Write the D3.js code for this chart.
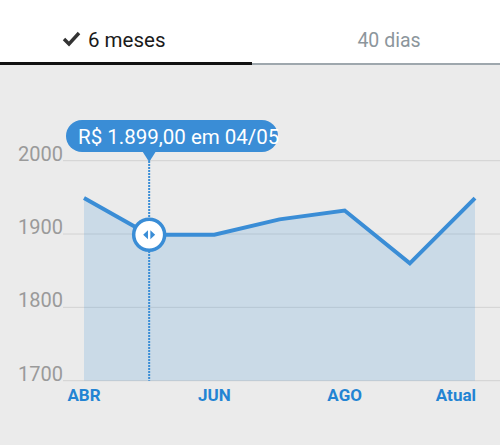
<!DOCTYPE html>
<html><head><meta charset="utf-8">
<script src="https://cdn.jsdelivr.net/npm/d3@7"></script>
<style>
html,body{margin:0;padding:0;background:#ebebeb;}
svg{display:block;font-family:Roboto,"Noto Sans",sans-serif;}
</style></head>
<body>
<svg id="c" width="500" height="445"></svg>
<script>
const categories = ["ABR","MAI","JUN","JUL","AGO","SET","Atual"];
const values = [1949, 1899, 1899, 1920, 1932, 1860, 1949];
const tickLabels = ["ABR","","JUN","","AGO","","Atual"];
const yTicks = [1700, 1800, 1900, 2000];
const tabs = ["6 meses", "40 dias"];
const selectedIndex = 1;
const tooltipText = "R$ 1.899,00 em 04/05";

const svg = d3.select("#c");
// tabs background
svg.append("rect").attr("x",0).attr("y",0).attr("width",500).attr("height",63).attr("fill","#ffffff");
svg.append("rect").attr("x",252).attr("y",63).attr("width",248).attr("height",2).attr("fill","#9ea7ad");
svg.append("rect").attr("x",0).attr("y",62).attr("width",252).attr("height",3).attr("fill","#111111");
// check mark
svg.append("path").attr("d","M64,39 L69,44 L79,33").attr("fill","none").attr("stroke","#333").attr("stroke-width",3.4);
svg.append("text").attr("x",88).attr("y",47).attr("font-size",20.5).attr("fill","#1a1a1a").text(tabs[0]);
svg.append("text").attr("x",389).attr("y",47).attr("text-anchor","middle").attr("font-size",19.5).attr("fill","#8c969c").text(tabs[1]);

const x = d3.scalePoint().domain(categories).range([84,475]);
const y = d3.scaleLinear().domain([1700,2000]).range([380.7,160.7]);

// gridlines
svg.append("g").selectAll("line").data(yTicks).join("line")
  .attr("x1",63).attr("x2",500).attr("y1",d=>y(d)).attr("y2",d=>y(d))
  .attr("stroke","#d2d2d2").attr("stroke-width",1);
// y labels
svg.append("g").selectAll("text").data(yTicks).join("text")
  .attr("x",63).attr("y",d=>y(d)).attr("text-anchor","end")
  .attr("font-size",20).attr("fill","#9a9a9a").text(d=>d);

// area
const area = d3.area().x((d,i)=>x(categories[i])).y0(y(1700)).y1(d=>y(d));
svg.append("path").datum(values).attr("d",area).attr("fill","#3a8fd6").attr("fill-opacity",0.18);
// line
const line = d3.line().x((d,i)=>x(categories[i])).y(d=>y(d));
svg.append("path").datum(values).attr("d",line).attr("fill","none")
  .attr("stroke","#3a8dd6").attr("stroke-width",4).attr("stroke-linejoin","miter");

// x labels
svg.append("g").selectAll("text").data(categories).join("text")
  .attr("x",d=>x(d)).attr("y",401)
  .attr("text-anchor",(d,i)=> i===categories.length-1 ? "end" : "middle")
  .attr("dx",(d,i)=> i===categories.length-1 ? 1 : 0)
  .attr("font-size",17).attr("font-weight","bold").attr("fill","#2384d3")
  .text((d,i)=>tickLabels[i]);

// selected marker
const sx = x(categories[selectedIndex]), sy = y(values[selectedIndex]);
svg.append("line").attr("x1",sx).attr("x2",sx).attr("y1",158).attr("y2",y(1700))
  .attr("stroke","#3a8dd6").attr("stroke-width",2).attr("stroke-dasharray","2,1");
// tooltip
const tg = svg.append("g");
tg.append("rect").attr("x",66).attr("y",120).attr("width",212).attr("height",32).attr("rx",16)
  .attr("fill","#3a8dd6");
tg.append("path").attr("d",`M${sx-7},151 L${sx+7},151 L${sx},162 Z`).attr("fill","#3a8dd6");
tg.append("text").attr("x",78).attr("y",143.5).attr("font-size",20.5)
  .attr("fill","#ffffff").text(tooltipText);
// handle
svg.append("circle").attr("cx",sx).attr("cy",sy).attr("r",15.5).attr("fill","#ffffff")
  .attr("stroke","#3a8dd6").attr("stroke-width",3.5);
svg.append("path").attr("d",`M${sx-1.2},${sy-4.5} L${sx-1.2},${sy+4.5} L${sx-6},${sy} Z M${sx+1.2},${sy-4.5} L${sx+1.2},${sy+4.5} L${sx+6},${sy} Z`)
  .attr("fill","#3a8dd6");
</script>
</body></html>
